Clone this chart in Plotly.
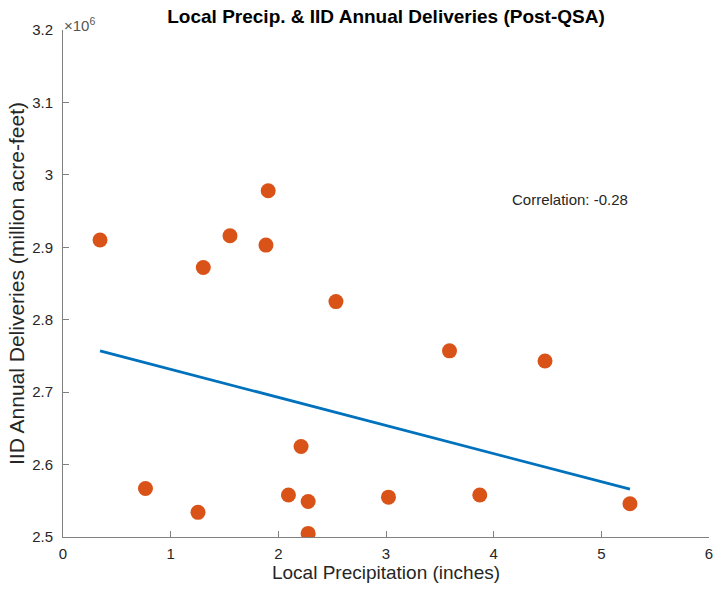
import plotly.graph_objects as go

precip = [0.344, 0.766, 1.254, 1.303, 1.551, 1.885, 1.906, 2.094, 2.211,
          2.277, 2.277, 2.535, 3.023, 3.590, 3.871, 4.477, 5.266]
deliveries = [2.910e6, 2.567e6, 2.534e6, 2.872e6, 2.916e6, 2.903e6, 2.978e6,
              2.558e6, 2.625e6, 2.549e6, 2.505e6, 2.825e6, 2.555e6, 2.757e6,
              2.558e6, 2.743e6, 2.546e6]
# linear fit line as shown in the reference (endpoints at min/max precipitation)
fit_x = [0.344, 5.266]
fit_y = [2.757e6, 2.566e6]
correlation_text = "Correlation: -0.28"
y_tickvals = [2.5e6, 2.6e6, 2.7e6, 2.8e6, 2.9e6, 3.0e6, 3.1e6, 3.2e6]
y_ticktext = ["2.5", "2.6", "2.7", "2.8", "2.9", "3", "3.1", "3.2"]
x_tickvals = [0, 1, 2, 3, 4, 5, 6]

fig = go.Figure()
fig.add_trace(go.Scatter(x=precip, y=deliveries, mode="markers",
                         marker=dict(color="#D95319", size=15, line=dict(width=0)),
                         showlegend=False))
fig.add_trace(go.Scatter(x=fit_x, y=fit_y, mode="lines",
                         line=dict(color="#0072BD", width=2.8), showlegend=False))

axis_color = "#262626"
line_color = "#808080"
fig.update_layout(
    width=728, height=590,
    margin=dict(l=63, r=19, t=30, b=51),
    paper_bgcolor="white", plot_bgcolor="white",
    font=dict(family="Liberation Sans, Arial, sans-serif", color=axis_color, size=15),
    title=dict(text="<b>Local Precip. & IID Annual Deliveries (Post-QSA)</b>",
               x=0.5, xref="paper", y=1, yref="paper", yanchor="bottom",
               pad=dict(b=7), font=dict(size=19, color="black")),
    xaxis=dict(range=[0, 6], tickvals=x_tickvals, showgrid=False, zeroline=False,
               showline=True, linecolor=line_color, linewidth=1,
               ticks="inside", ticklen=6, tickcolor=line_color,
               ticklabelstandoff=3,
               tickfont=dict(size=15, color=axis_color),
               title=dict(text="Local Precipitation (inches)", font=dict(size=19, color=axis_color),
                          standoff=3)),
    yaxis=dict(range=[2.5e6, 3.2e6], tickvals=y_tickvals, ticktext=y_ticktext,
               showgrid=False, zeroline=False,
               showline=True, linecolor=line_color, linewidth=1,
               ticks="inside", ticklen=6, tickcolor=line_color,
               ticklabelstandoff=6,
               tickfont=dict(size=15, color=axis_color),
               title=dict(text="IID Annual Deliveries (million acre-feet)",
                          font=dict(size=21, color=axis_color), standoff=1)),
)

fig.add_annotation(text="×10<sup>6</sup>", xref="paper", yref="paper", x=0, y=1,
                   xanchor="left", yanchor="bottom", showarrow=False,
                   font=dict(size=15, color="#555555"), xshift=-1, yshift=-6)
fig.add_annotation(text=correlation_text, x=4.15, y=2.966e6,
                   xanchor="left", yanchor="middle", showarrow=False,
                   font=dict(size=15, color=axis_color))

fig.write_html("out.html")
